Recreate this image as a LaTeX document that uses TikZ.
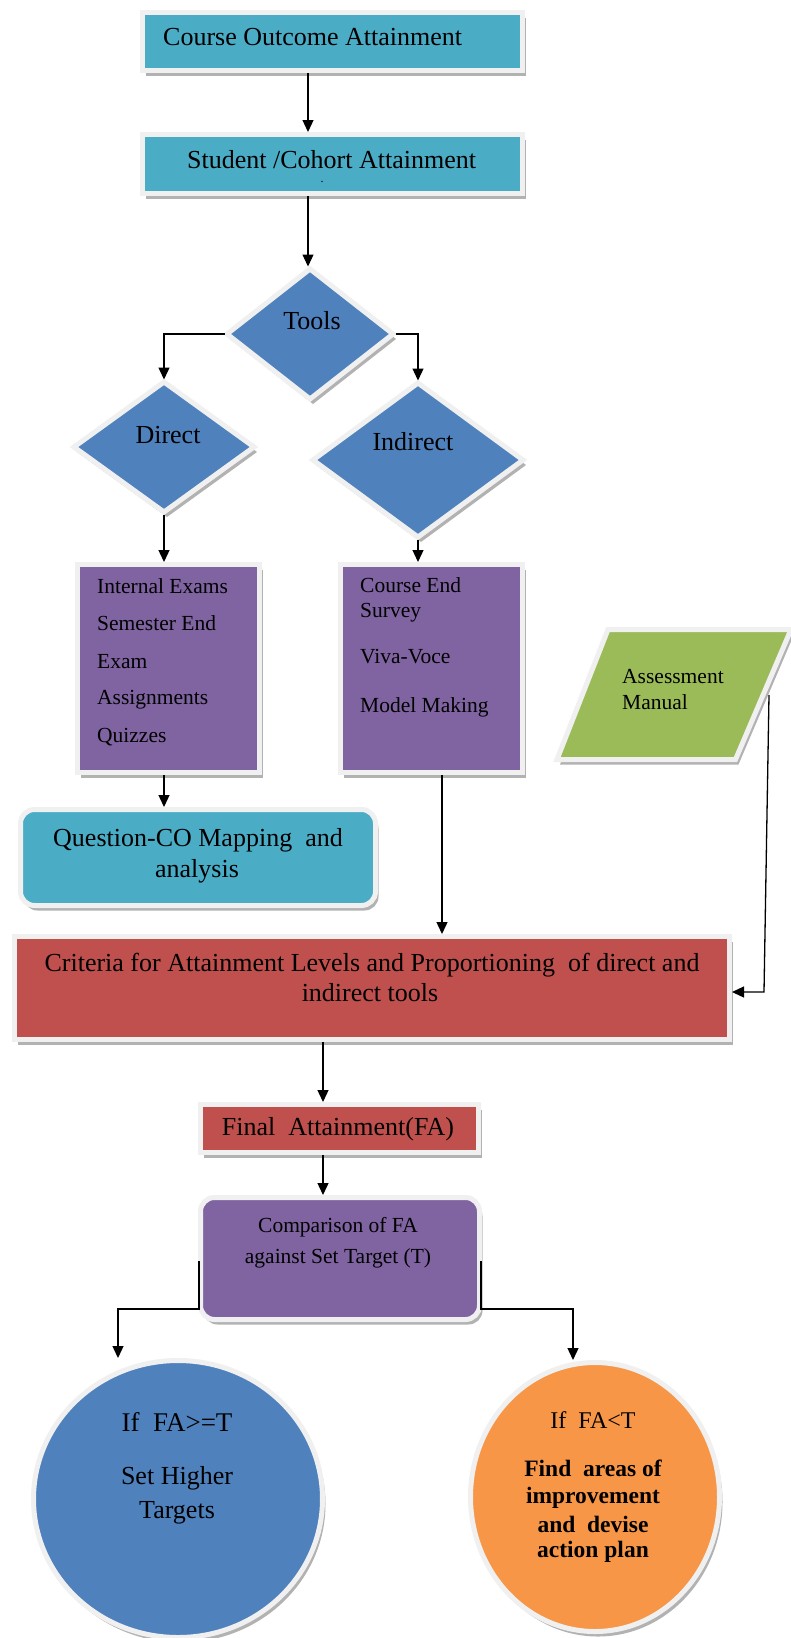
\documentclass[tikz,border=0pt]{standalone}
\usepackage{fontspec}
\setmainfont{Liberation Serif}
\usetikzlibrary{arrows.meta,shapes.geometric,shadows}
\definecolor{cteal}{HTML}{4BACC6}
\definecolor{cblue}{HTML}{4F81BD}
\definecolor{cpurple}{HTML}{8064A2}
\definecolor{cgreen}{HTML}{9BBB59}
\definecolor{cred}{HTML}{C0504D}
\definecolor{corange}{HTML}{F79646}
\definecolor{cbord}{HTML}{F0F0F0}
\begin{document}
\begin{tikzpicture}[x=1pt,y=-1pt,
  shp/.style={draw=cbord, line width=5pt, inner sep=0pt, outer sep=0pt,
    drop shadow={shadow xshift=3pt, shadow yshift=-5pt, fill=black, opacity=0.3}},
  big/.style={inner sep=0pt, font=\fontsize{26}{30}\selectfont},
  small/.style={inner sep=0pt, font=\fontsize{21.5}{26}\selectfont},
  boldtxt/.style={inner sep=0pt, font=\fontsize{23.5}{27}\selectfont\bfseries},
  arr/.style={-{Triangle[length=12pt,width=11pt]}, line width=1.3pt, shorten >=2.5pt, shorten <=2.5pt}
]
\useasboundingbox[fill=white] (0,0) rectangle (790,1638);

% shapes
\node[shp, fill=cteal, minimum width=380pt, minimum height=58pt] (co) at (332.5,41.5) {};
\node[shp, fill=cteal, minimum width=380pt, minimum height=59pt] (sc) at (332.5,164) {};
\node[shp, diamond, fill=cblue, minimum width=166pt, minimum height=130pt] (tools) at (310,334) {};
\node[shp, diamond, fill=cblue, minimum width=180pt, minimum height=130pt] (direct) at (164,447) {};
\node[shp, diamond, fill=cblue, minimum width=210pt, minimum height=154pt] (indirect) at (418,460) {};
\node[shp, fill=cpurple, minimum width=182pt, minimum height=208pt] (dlist) at (168.5,668.5) {};
\node[shp, fill=cpurple, minimum width=182pt, minimum height=208pt] (ilist) at (431.5,668.5) {};
\path[shp, fill=cgreen] (557,759.5) -- (608,629.5) -- (791,629.5) -- (735.5,759.5) -- cycle;
\node[shp, rounded corners=14pt, fill=cteal, minimum width=355pt, minimum height=96pt] (qco) at (198,857.5) {};
\node[shp, fill=cred, minimum width=715pt, minimum height=103pt] (crit) at (372,988) {};
\node[shp, fill=cred, minimum width=278pt, minimum height=48pt] (fa) at (339.5,1128.5) {};
\node[shp, rounded corners=14pt, fill=cpurple, minimum width=279pt, minimum height=122pt] (cmp) at (340,1258.5) {};
\node[shp, ellipse, fill=cblue, minimum width=289pt, minimum height=277pt] (hi) at (178,1499) {};
\node[shp, ellipse, fill=corange, minimum width=249pt, minimum height=269pt] (lo) at (595,1497) {};

% texts
\node[big, anchor=base west] (co-t) at (163,45) {Course Outcome Attainment};
\node[big, anchor=base west] (sc-t) at (187,168) {Student /Cohort Attainment};
\node[inner sep=0pt, font=\fontsize{12}{12}\selectfont, anchor=base] (sc-d) at (322,182) {.};
\node[big, anchor=base] (tools-t) at (312,329) {Tools};
\node[big, anchor=base] (direct-t) at (168,443) {Direct};
\node[big, anchor=base] (indirect-t) at (413,450) {Indirect};
\foreach \t/\y [count=\i] in {Internal Exams/593, Semester End/630, Exam/668, Assignments/704, Quizzes/742}
  \node[small, anchor=base west] (dl-\i) at (97,\y) {\t};
\foreach \t/\y [count=\i] in {Course End/592, Survey/617, Viva-Voce/663, Model Making/712}
  \node[small, anchor=base west] (il-\i) at (360,\y) {\t};
\node[small, anchor=base west] (am-1) at (622,683) {Assessment};
\node[small, anchor=base west] (am-2) at (622,709) {Manual};
\node[big, anchor=base] (qco-1) at (198,846) {Question-CO Mapping\ \ and};
\node[big, anchor=base] (qco-2) at (197,877) {analysis};
\node[big, anchor=base] (crit-1) at (372,971) {Criteria for Attainment Levels and Proportioning\ \ of direct and};
\node[big, anchor=base] (crit-2) at (370,1001) {indirect tools};
\node[big, anchor=base] (fa-t) at (338,1135) {Final\ \ Attainment(FA)};
\node[small, anchor=base] (cmp-1) at (338,1232) {Comparison of FA};
\node[small, anchor=base] (cmp-2) at (338,1263) {against Set Target (T)};
\node[inner sep=0pt, font=\fontsize{27}{30}\selectfont, anchor=base] (hi-1) at (177,1431) {If\ \ FA>=T};
\node[big, anchor=base] (hi-2) at (177,1484) {Set Higher};
\node[big, anchor=base] (hi-3) at (177,1518) {Targets};
\node[inner sep=0pt, font=\fontsize{24}{28}\selectfont, anchor=base] (lo-1) at (593,1428) {If\ \ FA<T};
\foreach \t/\y [count=\i] in {Find\ \ areas of/1476, improvement/1503, and\ \ devise/1532, action plan/1557}
  \node[boldtxt, anchor=base] (lo-b\i) at (593,\y) {\t};

% connectors
\coordinate (cx) at (308,0);
\coordinate (ix) at (442,0);
\coordinate (fx) at (323,0);
\coordinate (amr) at (769,695);
\coordinate (amb) at (764,992);
\coordinate (hl) at (118,1309);
\coordinate (hr) at (573,1309);
\draw[arr] (co.south -| cx) -- (sc.north -| cx);
\draw[arr] (sc.south -| cx) -- (tools.north -| cx);
\draw[arr] (tools.west) -| (direct.north);
\draw[arr] (tools.east) -| (indirect.north);
\draw[arr] (direct.south) -- (direct.south |- dlist.north);
\draw[arr] (indirect.south) -- (indirect.south |- ilist.north);
\draw[arr] (dlist.south -| direct.south) -- (qco.north -| direct.south);
\draw[arr] (ilist.south -| ix) -- (crit.north -| ix);
\draw[arr, shorten <=0pt] (amr) -- (amb) -- (crit.east |- amb);
\draw[arr] (crit.south -| fx) -- (fa.north -| fx);
\draw[arr] (fa.south -| fx) -- (cmp.north -| fx);
\draw[arr] ([xshift=-1.5pt]cmp.west) -- ([xshift=-1.5pt]cmp.west |- hl) -- (hl) -- (hl |- hi.north);
\draw[arr] ([xshift=1.5pt]cmp.east) -- ([xshift=1.5pt]cmp.east |- hr) -- (hr) -- (hr |- lo.north);
\end{tikzpicture}
\end{document}
